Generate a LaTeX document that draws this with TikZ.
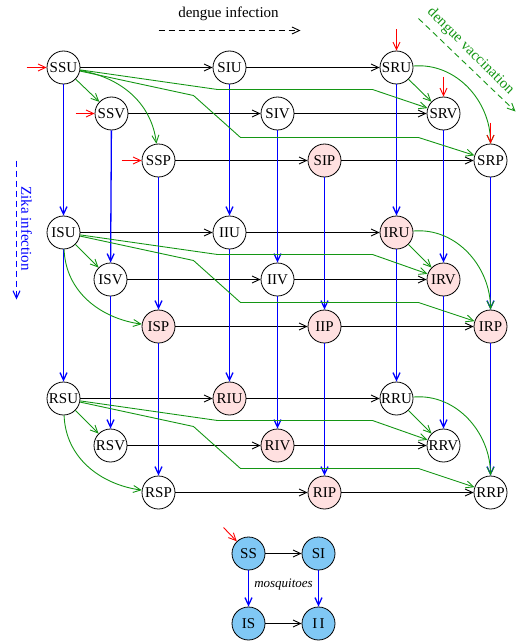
\documentclass[tikz,border=0pt]{standalone}
\usepackage{fontspec}
\setmainfont{Liberation Serif}
\usetikzlibrary{arrows.meta}
\definecolor{pinkc}{RGB}{255,224,224}
\definecolor{mosq}{RGB}{128,200,245}
\definecolor{grn}{RGB}{20,150,20}
\tikzset{
  st/.style={circle, draw, line width=0.8pt, minimum size=33pt, inner sep=0pt, fill=white, font=\fontsize{15}{18}\selectfont},
  pk/.style={st, fill=pinkc},
  mq/.style={st, fill=mosq},
  tip/.style={-{Straight Barb[length=7.5pt,width=7pt]}},
  hz/.style={tip, draw=black, line width=0.9pt},
  vt/.style={tip, draw=blue, line width=1.3pt},
  gr/.style={tip, draw=grn, line width=0.9pt},
  rd/.style={tip, draw=red, line width=0.9pt},
  lab/.style={font=\fontsize{15}{18}\selectfont}
}
\begin{document}
\begin{tikzpicture}[x=1pt,y=-1pt]
\useasboundingbox (0,0) rectangle (520,642);
\begin{scope}[xshift=0.5pt,yshift=-0.5pt]
% nodes
\node[st] (SSU) at (63,67) {SSU};
\node[st] (SIU) at (229,67) {SIU};
\node[st] (SRU) at (396,67) {SRU};
\node[st] (SSV) at (111,113) {SSV};
\node[st] (SIV) at (277,113) {SIV};
\node[st] (SRV) at (443,113) {SRV};
\node[st] (SSP) at (158,160) {SSP};
\node[pk] (SIP) at (324,160) {SIP};
\node[st] (SRP) at (490,160) {SRP};
\node[st] (ISU) at (63,232) {ISU};
\node[st] (IIU) at (229,232) {IIU};
\node[pk] (IRU) at (396,232) {IRU};
\node[st] (ISV) at (110,279) {ISV};
\node[st] (IIV) at (277,279) {IIV};
\node[pk] (IRV) at (443,279) {IRV};
\node[pk] (ISP) at (158,326) {ISP};
\node[pk] (IIP) at (324,326) {IIP};
\node[pk] (IRP) at (490,326) {IRP};
\node[st] (RSU) at (63,398) {RSU};
\node[pk] (RIU) at (229,398) {RIU};
\node[st] (RRU) at (396,398) {RRU};
\node[st] (RSV) at (110,445) {RSV};
\node[pk] (RIV) at (277,445) {RIV};
\node[st] (RRV) at (443,445) {RRV};
\node[st] (RSP) at (158,492) {RSP};
\node[pk] (RIP) at (324,492) {RIP};
\node[st] (RRP) at (490,492) {RRP};
\node[mq] (SS) at (248,553) {SS};
\node[mq] (SI) at (318,553) {SI};
\node[mq] (IS) at (248,623) {IS};
\node[mq] (II) at (318,623) {I\,I};
\node[font=\fontsize{13}{15}\selectfont\itshape] (mlab) at (283,584) {mosquitoes};
% horizontal dengue infection
\foreach \rr in {S,I,R}{
  \foreach \vv in {U,V,P}{
    \draw[hz] (\rr S\vv) -- (\rr I\vv);
    \draw[hz] (\rr I\vv) -- (\rr R\vv);
  }
}
% vertical zika infection
\foreach \cc in {S,I,R}{
  \foreach \vv in {U,V,P}{
    \draw[vt] (S\cc\vv) -- (I\cc\vv);
    \draw[vt] (I\cc\vv) -- (R\cc\vv);
  }
}
% green vaccination
\foreach \rr/\oo in {S/0,I/165,R/331}{
  \draw[gr] (\rr SU) -- (\rr SV);
  \draw[gr] (\rr RU) -- (\rr RV);
  \draw[gr] (\rr RU) to[out=5,in=90] (\rr RP);
  \draw[gr] (\rr SU) -- (217,89+\oo) -- (372,89+\oo) -- (\rr RV);
  \draw[gr] (\rr SU) -- (193,95+\oo) -- (240,137+\oo) -- (418,137+\oo) -- (\rr RP);
}
\draw[gr] (SSU) to[out=-10,in=97] (SSP);
\draw[gr] (ISU) to[out=-88,in=172] (ISP);
\draw[gr] (RSU) to[out=-88,in=172] (RSP);
% mosquitoes
\draw[hz] (SS) -- (SI);
\draw[hz] (IS) -- (II);
\draw[vt] (SS) -- (IS);
\draw[vt] (SI) -- (II);
% red inflows
\coordinate (r1) at (26,67);
\coordinate (r2) at (75,113);
\coordinate (r3) at (121,160);
\coordinate (r4) at (396,29);
\coordinate (r5) at (443,76);
\coordinate (r6) at (490,122);
\coordinate (r7) at (223,527);
\draw[rd] (r1) -- (SSU);
\draw[rd] (r2) -- (SSV);
\draw[rd] (r3) -- (SSP);
\draw[rd] (r4) -- (SRU);
\draw[rd] (r5) -- (SRV);
\draw[rd] (r6) -- (SRP);
\draw[rd] (r7) -- (SS);
% legends
\node[lab] (dlab) at (228,13) {dengue infection};
\coordinate (d1) at (158,30);
\coordinate (d2) at (300,30);
\draw[tip, line width=0.9pt, dash pattern=on 6pt off 4pt] (d1) -- (d2);
\node[lab, text=blue, rotate=-90] (zlab) at (26,228) {Zika infection};
\coordinate (z1) at (16,160);
\coordinate (z2) at (16,299);
\draw[tip, blue, line width=1.1pt, dash pattern=on 6pt off 4pt] (z1) -- (z2);
\node[lab, text=grn, rotate=-45] (vlab) at (470,51) {dengue vaccination};
\coordinate (v1) at (418,18);
\coordinate (v2) at (515,111);
\draw[tip, grn, line width=0.9pt, dash pattern=on 6pt off 4pt] (v1) -- (v2);
\end{scope}
\end{tikzpicture}
\end{document}
